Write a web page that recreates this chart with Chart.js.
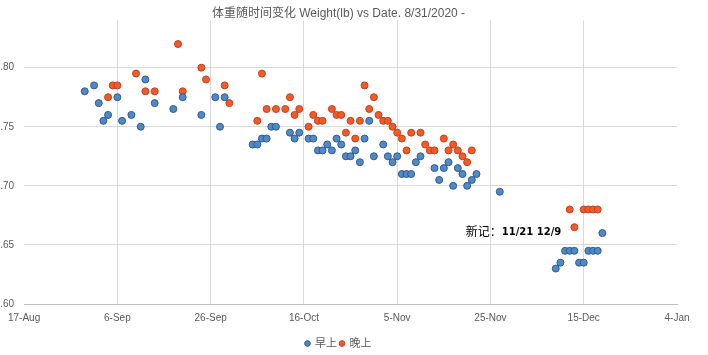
<!DOCTYPE html>
<html>
<head>
<meta charset="utf-8">
<script src="https://cdn.jsdelivr.net/npm/chart.js@4/dist/chart.umd.min.js"></script>
<style>
  html, body { margin: 0; padding: 0; background: #ffffff; }
  #wrap { width: 708px; height: 355px; }
</style>
</head>
<body>
<div id="wrap"><canvas id="c" width="708" height="355"></canvas></div>
<script>
// ---- data ----
const chartTitle = "体重随时间变化 Weight(lb) vs Date. 8/31/2020 -";
const seriesNames = ["早上", "晚上"];

const morningDates = ["8/30","9/1","9/2","9/3","9/4","9/6","9/7","9/9","9/11","9/12","9/14","9/18","9/20","9/24","9/27","9/28","9/29",
  "10/5","10/6","10/7","10/8","10/9","10/10","10/13","10/14","10/15","10/17","10/18","10/19","10/20","10/21","10/22","10/23","10/24","10/25","10/26","10/27","10/28","10/29","10/30","10/31",
  "11/2","11/3","11/4","11/5","11/6","11/7","11/8","11/9","11/10","11/13","11/14","11/15","11/16","11/17","11/18","11/19","11/20","11/21","11/22","11/27",
  "12/9","12/10","12/11","12/12","12/13","12/14","12/15","12/16","12/17","12/18","12/19"];
const morningWeights = [1.78,1.785,1.77,1.755,1.76,1.775,1.755,1.76,1.75,1.79,1.77,1.765,1.775,1.76,1.775,1.75,1.775,
  1.735,1.735,1.74,1.74,1.75,1.75,1.745,1.74,1.745,1.74,1.74,1.73,1.73,1.735,1.73,1.74,1.735,1.725,1.725,1.73,1.72,1.74,1.755,1.725,
  1.735,1.725,1.72,1.725,1.71,1.71,1.71,1.72,1.725,1.715,1.705,1.715,1.72,1.70,1.715,1.71,1.70,1.705,1.71,1.695,
  1.63,1.635,1.645,1.645,1.645,1.635,1.635,1.645,1.645,1.645,1.66];

const eveningDates = ["9/4","9/5","9/6","9/10","9/12","9/14","9/19","9/20","9/24","9/25","9/29","9/30",
  "10/6","10/7","10/8","10/10","10/12","10/13","10/14","10/15","10/17","10/18","10/19","10/20","10/22","10/23","10/24","10/25","10/26","10/27","10/28","10/29","10/30","10/31",
  "11/1","11/2","11/3","11/4","11/5","11/6","11/7","11/8","11/10","11/11","11/12","11/13","11/15","11/16","11/17","11/18","11/19","11/20","11/21",
  "12/12","12/13","12/15","12/16","12/17","12/18"];
const eveningWeights = [1.775,1.785,1.785,1.795,1.78,1.78,1.82,1.78,1.80,1.79,1.785,1.77,
  1.755,1.795,1.765,1.765,1.765,1.775,1.76,1.765,1.75,1.76,1.755,1.755,1.765,1.76,1.76,1.745,1.755,1.74,1.755,1.785,1.765,1.775,
  1.76,1.755,1.755,1.75,1.745,1.74,1.73,1.745,1.745,1.735,1.73,1.73,1.74,1.73,1.735,1.73,1.725,1.72,1.73,
  1.68,1.665,1.68,1.68,1.68,1.68];

const xTickLabels = ["17-Aug","6-Sep","26-Sep","16-Oct","5-Nov","25-Nov","15-Dec","4-Jan"];
const xTickDays = [0,20,40,60,80,100,120,140];          // days after 17-Aug
const yTickValues = [1.60,1.65,1.70,1.75,1.80];
const annotationParts = ["新记：", "11/21 12/9"];
const annotationDay = 94.7;    // days after 17-Aug
const annotationValue = 1.661;

// ---- helpers ----
const BASE = Date.UTC(2020, 7, 17);
function dayOf(md) {
  const [m, d] = md.split("/").map(Number);
  return Math.round((Date.UTC(2020, m - 1, d) - BASE) / 86400000);
}
function toPoints(dates, vals) { return dates.map((d, i) => ({ x: dayOf(d), y: vals[i] })); }

const textColor = "#595959";
const gridColor = "#d9d9d9";
Chart.defaults.font.family = '"Liberation Sans", "Noto Sans CJK SC", sans-serif';
Chart.defaults.color = textColor;

const annotationPlugin = {
  id: "anno",
  afterDatasetsDraw(chart) {
    const { ctx, scales } = chart;
    const x = scales.x.getPixelForValue(annotationDay);
    const y = scales.y.getPixelForValue(annotationValue);
    ctx.save();
    ctx.textBaseline = "middle";
    ctx.fillStyle = "#000000";
    ctx.font = '12px "Noto Sans CJK SC", sans-serif';
    ctx.fillText(annotationParts[0], x, y);
    const w = ctx.measureText(annotationParts[0]).width;
    ctx.font = 'bold 10px "DejaVu Sans", sans-serif';
    ctx.fillText(annotationParts[1], x + w, y);
    ctx.restore();
  }
};

new Chart(document.getElementById("c"), {
  type: "scatter",
  data: {
    datasets: [
      {
        label: seriesNames[0],
        data: toPoints(morningDates, morningWeights),
        backgroundColor: "#5089c6",
        borderColor: "#2f5b8f",
        borderWidth: 1,
        pointRadius: 3.5
      },
      {
        label: seriesNames[1],
        data: toPoints(eveningDates, eveningWeights),
        backgroundColor: "#f25a29",
        borderColor: "#c4401c",
        borderWidth: 1,
        pointRadius: 3.5
      }
    ]
  },
  options: {
    responsive: false,
    animation: false,
    events: [],
    layout: { padding: { left: 0, right: 31, top: 0, bottom: -4 } },
    plugins: {
      title: {
        display: true,
        text: chartTitle,
        color: textColor,
        font: { size: 12, weight: "normal" },
        padding: { top: 6, bottom: 0 }
      },
      legend: {
        position: "bottom",
        labels: {
          usePointStyle: true,
          pointStyle: "circle",
          boxWidth: 4,
          boxHeight: 4,
          color: textColor,
          font: { size: 11 },
          padding: 3
        }
      },
      tooltip: { enabled: false }
    },
    scales: {
      x: {
        type: "linear",
        min: xTickDays[0],
        max: xTickDays[xTickDays.length - 1],
        afterBuildTicks: (s) => { s.ticks = xTickDays.map(v => ({ value: v })); },
        afterFit: (s) => { s.height = 31; },
        ticks: {
          autoSkip: false,
          maxRotation: 0,
          padding: 8,
          color: textColor,
          font: { size: 10 },
          callback: (v, i) => xTickLabels[i]
        },
        grid: {
          drawTicks: false,
          color: (c) => (c.index === 0 || c.index === xTickDays.length - 1) ? "rgba(0,0,0,0)" : gridColor
        },
        border: { display: true, color: "#bfbfbf" }
      },
      y: {
        min: 1.60,
        max: 1.84,
        afterBuildTicks: (s) => { s.ticks = yTickValues.map(v => ({ value: v })); },
        afterFit: (s) => { s.width = 23; },
        ticks: {
          padding: 10,
          color: textColor,
          font: { size: 10 },
          callback: (v) => Number(v).toFixed(2)
        },
        grid: { drawTicks: false, color: gridColor },
        border: { display: false }
      }
    }
  },
  plugins: [annotationPlugin]
});
</script>
</body>
</html>
